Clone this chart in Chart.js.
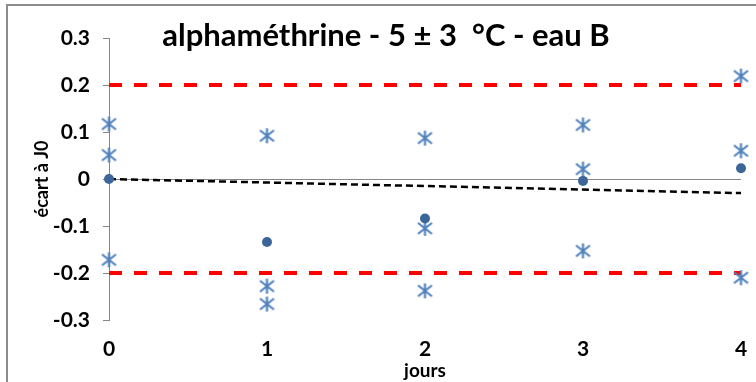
<!DOCTYPE html>
<html><head><meta charset="utf-8">
<script src="https://cdn.jsdelivr.net/npm/chart.js@4/dist/chart.umd.min.js"></script>
<style>
html,body{margin:0;padding:0;background:#fff;}
#wrap{position:relative;width:756px;height:382px;overflow:hidden;}
#frame{position:absolute;left:6px;top:4px;width:900px;height:500px;border-left:2px solid #8c8c8c;border-top:2px solid #8c8c8c;pointer-events:none;}
</style></head>
<body>
<div id="wrap"><canvas id="c" width="756" height="382"></canvas><div id="frame"></div></div>
<script>
const titleText = 'alphaméthrine - 5 ± 3  °C - eau B';
const days = [0, 1, 2, 3, 4];
const rep1 = [0.117, 0.092, 0.087, 0.115, 0.219];
const rep2 = [0.051, -0.228, -0.105, 0.021, 0.060];
const rep3 = [-0.172, -0.266, -0.238, -0.153, -0.210];
const means = [0.000, -0.134, -0.084, -0.004, 0.023];
const trendX = [0, 4];
const trendY = [0.000, -0.030];
const limitX = [0, 4];
const upperLimit = [0.2, 0.2];
const lowerLimit = [-0.2, -0.2];

const FONT = 'Lato, "Liberation Sans", sans-serif';
const pts = (xs, ys) => xs.map((x, i) => ({x: x, y: ys[i]}));

// asterisk marker (vertical + two diagonals)
const star = document.createElement('canvas');
star.width = 17; star.height = 17;
(function(){
  const g = star.getContext('2d');
  g.strokeStyle = '#4F81BD'; g.lineWidth = 2.2; g.lineCap = 'butt';
  g.beginPath();
  g.moveTo(8.5, 1); g.lineTo(8.5, 16);
  g.moveTo(1.5, 3); g.lineTo(15.5, 14);
  g.moveTo(15.5, 3); g.lineTo(1.5, 14);
  g.stroke();
})();

const starDs = (arr) => ({
  data: pts(days, arr), showLine: false, pointStyle: star, pointRadius: 8,
  order: 1, clip: false
});

const titlePlugin = {
  id: 'ttl',
  afterDraw(chart) {
    const ctx = chart.ctx;
    ctx.save();
    ctx.font = 'bold 31px ' + FONT;
    ctx.fillStyle = '#000';
    ctx.textAlign = 'center';
    ctx.textBaseline = 'alphabetic';
    ctx.fillText(titleText, 386, 46);
    ctx.restore();
  }
};

new Chart(document.getElementById('c'), {
  type: 'scatter',
  data: {
    datasets: [
      {data: pts(days, means), showLine: false, pointStyle: 'circle', pointRadius: 5,
       backgroundColor: '#3C6699', borderWidth: 0, order: 0, clip: false},
      starDs(rep1), starDs(rep2), starDs(rep3),
      {data: pts(trendX, trendY), showLine: true, pointRadius: 0, borderColor: '#000',
       borderWidth: 2.5, borderDash: [7, 4], order: 2, clip: false},
      {data: pts(limitX, upperLimit), showLine: true, pointRadius: 0, borderColor: '#FF0000',
       borderWidth: 4, borderDash: [13, 12], order: 3, clip: false},
      {data: pts(limitX, lowerLimit), showLine: true, pointRadius: 0, borderColor: '#FF0000',
       borderWidth: 4, borderDash: [13, 12], order: 3, clip: false}
    ]
  },
  options: {
    responsive: false, animation: false, devicePixelRatio: 1,
    layout: {padding: {left: 0, top: 38, right: 15, bottom: 0}},
    plugins: {legend: {display: false}, tooltip: {enabled: false}, title: {display: false}},
    scales: {
      x: {
        type: 'linear', min: 0, max: 4,
        afterFit(s) { s.height = 62; s.paddingRight = 0; s.paddingLeft = 0; },
        grid: {display: false, drawTicks: false},
        border: {display: false},
        ticks: {stepSize: 1, padding: 17, color: '#000', font: {family: FONT, size: 21, weight: 'bold'}},
        title: {display: true, text: 'jours', color: '#000', padding: {top: 0, bottom: 0},
                font: {family: FONT, size: 19, weight: 'bold'}}
      },
      y: {
        type: 'linear', min: -0.3, max: 0.3,
        afterFit(s) { s.width = 109; s.paddingTop = 0; s.paddingBottom = 0; },
        grid: {
          drawOnChartArea: true, drawTicks: true, tickLength: 6, tickColor: '#868686',
          color: (c) => (c.tick && Math.abs(c.tick.value) < 1e-9) ? '#868686' : 'rgba(0,0,0,0)',
          lineWidth: 1
        },
        border: {display: true, color: '#868686', width: 1},
        ticks: {
          stepSize: 0.1, padding: 13, color: '#000',
          font: {family: FONT, size: 21, weight: 'bold'},
          callback: (v) => String(Math.round(v * 10) / 10)
        },
        title: {display: true, text: 'écart à J0', color: '#000', padding: {top: 31, bottom: 0},
                font: {family: FONT, size: 18, weight: 'bold'}}
      }
    }
  },
  plugins: [titlePlugin]
});
</script>
</body></html>
